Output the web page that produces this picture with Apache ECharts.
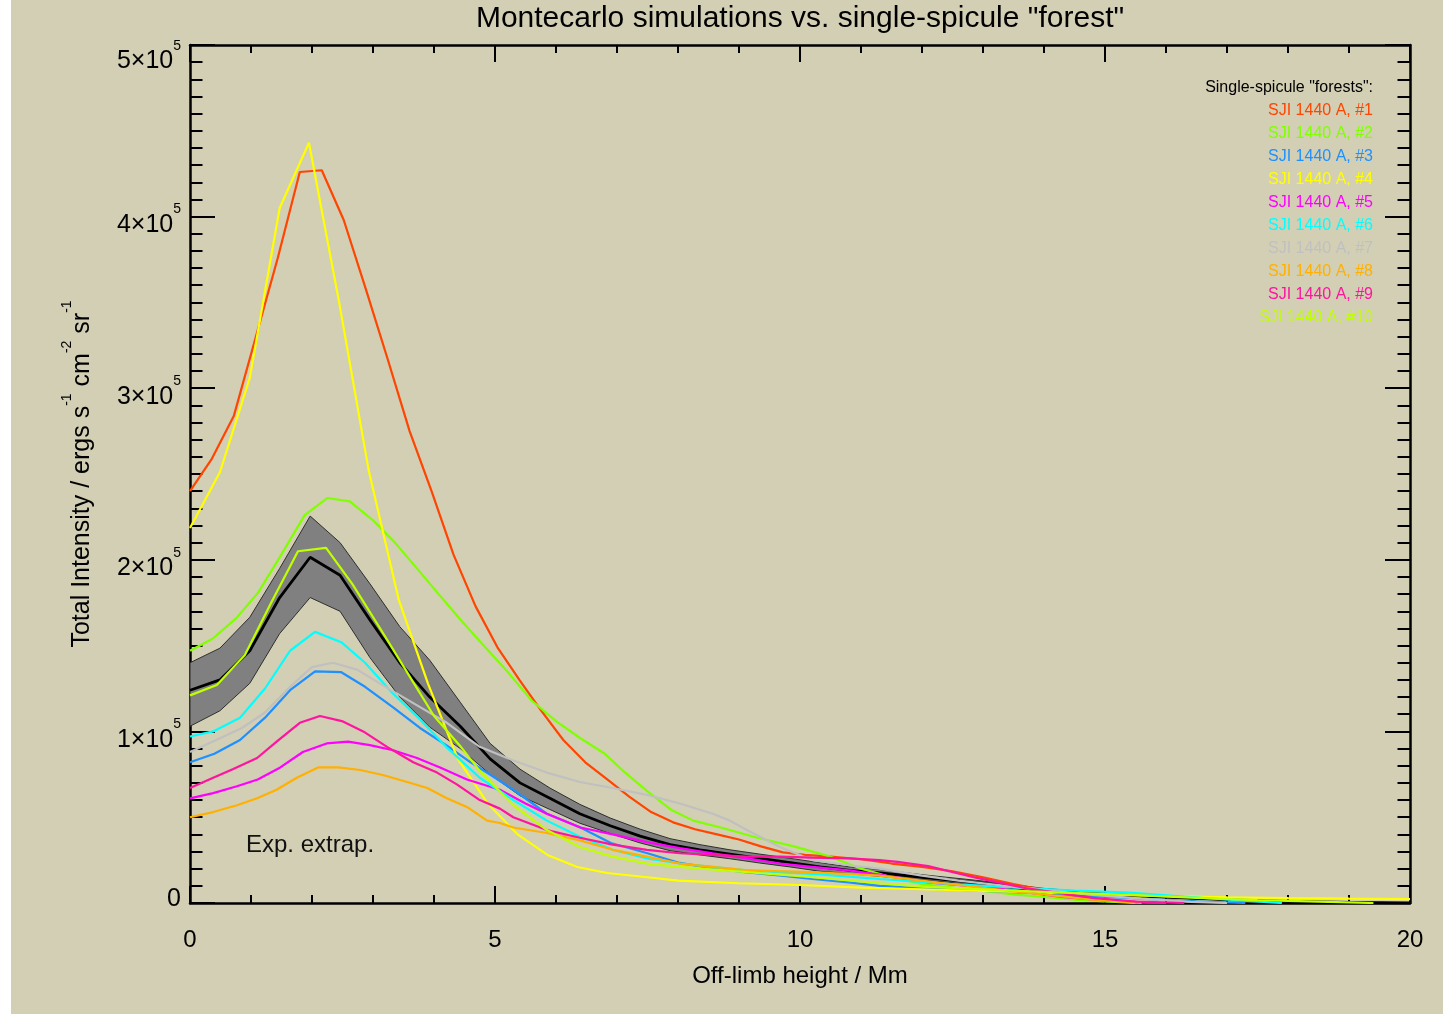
<!DOCTYPE html>
<html><head><meta charset="utf-8">
<script src="https://cdn.jsdelivr.net/npm/echarts@6/dist/echarts.min.js"></script>
<style>html,body{margin:0;padding:0;background:#fff}#c{width:1443px;height:1014px}</style>
</head><body><div id="c"></div>
<script>
const FONT = '"Liberation Sans", Arial, Helvetica, sans-serif';

const chartTitle = 'Montecarlo simulations vs. single-spicule "forest"';
const xAxisName = 'Off-limb height / Mm';
const legendHeader = 'Single-spicule "forests":';
const noteText = 'Exp. extrap.';

const seriesNames = ['SJI 1440 A, #1','SJI 1440 A, #2','SJI 1440 A, #3','SJI 1440 A, #4','SJI 1440 A, #5',
  'SJI 1440 A, #6','SJI 1440 A, #7','SJI 1440 A, #8','SJI 1440 A, #9','SJI 1440 A, #10'];
const seriesColors = ['#FF4500','#7FFF00','#1E90FF','#FFFF00','#FF00FF','#00FFFF','#C0C0C0','#FFB000','#FF14A0','#BFFF00'];

// [x (Mm), intensity]
const forest1 = [[0,240e3],[0.36,259e3],[0.72,284e3],[1.08,330e3],[1.44,376e3],[1.8,426e3],[2.16,427e3],[2.52,398e3],[2.88,358e3],[3.24,317e3],[3.6,275e3],[3.96,240e3],[4.32,203e3],[4.68,173e3],[5.04,149e3],[5.4,130e3],[5.76,112e3],[6.12,95e3],[6.48,82e3],[6.84,72e3],[7.2,62e3],[7.56,53e3],[7.92,47e3],[8.28,43e3],[8.64,40e3],[9.0,37e3],[9.36,33e3],[9.72,29.5e3],[10.08,28e3],[10.5,27e3],[11.0,25.5e3],[11.5,23e3],[12.0,21e3],[12.5,18.5e3],[13.0,15e3],[13.5,11e3],[14.0,7.5e3],[14.5,4e3],[15.0,1.5e3],[15.5,0.3e3],[16.0,0]];
const forest2 = [[0,147e3],[0.37,154e3],[0.76,166e3],[1.12,181e3],[1.48,202e3],[1.88,226e3],[2.25,236e3],[2.62,234e3],[3.0,223e3],[3.36,210e3],[3.72,195e3],[4.1,179e3],[4.46,164e3],[4.84,149e3],[5.2,135e3],[5.6,118e3],[6.0,106e3],[6.4,96e3],[6.8,87e3],[7.1,77e3],[7.5,65e3],[7.9,54e3],[8.25,48e3],[8.7,44e3],[9.3,38e3],[9.9,33e3],[10.5,27e3],[11.0,20e3],[11.5,15e3],[12.0,11e3],[12.5,9e3],[13.0,7e3],[13.5,5e3],[14.0,3.5e3],[14.5,2e3],[15.0,1e3],[15.5,0]];
const forest3 = [[0,82e3],[0.4,87e3],[0.82,95e3],[1.23,108e3],[1.64,124e3],[2.05,135e3],[2.48,134.5e3],[2.87,126e3],[3.33,114e3],[3.77,102e3],[4.2,92e3],[4.6,82e3],[5.0,73e3],[5.3,66e3],[5.85,52e3],[6.4,44e3],[6.9,35e3],[7.5,29e3],[8.0,23.5e3],[8.6,20e3],[9.1,18e3],[9.7,16e3],[10.2,14e3],[10.8,12e3],[11.3,10e3],[12.0,8.5e3],[13.0,7e3],[13.7,6e3],[14.5,4.5e3],[15.2,3.2e3],[15.9,2e3],[16.5,1e3],[17.3,0]];
const forest4 = [[0,218.5e3],[0.49,251e3],[0.98,306e3],[1.47,405e3],[1.95,443e3],[2.44,351e3],[2.93,252e3],[3.42,177e3],[3.9,128e3],[4.39,84e3],[4.88,58e3],[5.37,40e3],[5.86,28e3],[6.35,21e3],[6.84,17.5e3],[7.5,15e3],[8.0,13e3],[9.0,11.5e3],[10.0,10.5e3],[11.0,9e3],[12.0,8e3],[13.0,7e3],[14.0,6e3],[15.0,5e3],[16.0,4e3],[17.0,3.3e3],[18.0,2.8e3],[19.0,2.5e3],[20.0,2.3e3]];
const forest5 = [[0,61e3],[0.38,64e3],[0.77,68e3],[1.11,72e3],[1.48,79e3],[1.85,88e3],[2.24,93e3],[2.59,94e3],[2.95,92e3],[3.33,89e3],[3.72,84.5e3],[4.1,79e3],[4.54,72e3],[5.08,66e3],[5.5,58e3],[5.85,52e3],[6.4,44e3],[6.93,40e3],[7.49,35.5e3],[8.03,32e3],[8.57,29e3],[9.13,26e3],[9.67,23e3],[10.2,21e3],[10.8,19e3],[11.3,16.5e3],[12.1,12e3],[13.2,8.7e3],[14.3,3.5e3],[15.0,1.5e3],[15.9,0]];
const forest6 = [[0,97e3],[0.38,100e3],[0.82,108e3],[1.23,125e3],[1.64,147e3],[2.05,158e3],[2.48,152e3],[2.87,140e3],[3.33,122e3],[3.77,107e3],[4.2,91e3],[4.75,73e3],[5.3,60e3],[5.85,48e3],[6.4,38.5e3],[6.93,31e3],[7.49,26e3],[8.03,23e3],[9.13,19e3],[10.2,17e3],[11.3,14e3],[12.5,11e3],[13.7,8.7e3],[14.5,7.2e3],[15.4,6e3],[16.4,3.5e3],[17.2,1.5e3],[17.9,0]];
const forest7 = [[0,88e3],[0.49,96e3],[0.85,102e3],[1.23,111e3],[1.64,126e3],[2.0,137.5e3],[2.34,140e3],[2.74,136e3],[3.11,128e3],[3.66,116.5e3],[4.21,105e3],[4.75,91e3],[5.3,83e3],[5.85,76e3],[6.39,70.5e3],[6.93,67e3],[7.49,63e3],[8.03,58e3],[8.57,52e3],[8.85,48e3],[9.13,42.5e3],[9.67,32.6e3],[10.2,25e3],[10.8,22e3],[11.3,20e3],[12.0,16e3],[12.6,13e3],[13.7,8.7e3],[14.8,4.7e3],[15.6,2.5e3],[16.4,0.6e3],[17.0,0]];
const forest8 = [[0,50e3],[0.38,53e3],[0.77,57e3],[1.1,61e3],[1.42,66e3],[1.75,73e3],[2.1,79e3],[2.43,79e3],[2.79,77.5e3],[3.16,74.6e3],[3.56,70.5e3],[3.89,67e3],[4.21,61e3],[4.54,56e3],[4.87,48e3],[5.08,46.6e3],[5.3,44e3],[5.85,40.8e3],[6.39,36.5e3],[6.93,31e3],[7.49,27e3],[8.03,23e3],[9.13,19e3],[10.2,18e3],[11.3,16e3],[12.6,10.5e3],[13.7,6e3],[14.8,2e3],[15.6,0]];
const forest9 = [[0,67e3],[0.38,73e3],[0.7,78e3],[1.1,84.5e3],[1.42,94e3],[1.8,105e3],[2.13,109e3],[2.49,106e3],[2.84,100e3],[3.23,91e3],[3.66,82e3],[4.05,76e3],[4.38,69e3],[4.75,60e3],[5.08,55e3],[5.3,50e3],[5.85,42.5e3],[6.39,38e3],[6.93,34e3],[7.49,31e3],[8.03,29e3],[8.57,28e3],[9.13,27e3],[9.67,27e3],[10.2,26.5e3],[10.8,26e3],[11.3,25e3],[11.6,24e3],[12.1,21.5e3],[12.9,14.6e3],[13.7,8.7e3],[14.8,3e3],[15.5,0.8e3],[16.3,0]];
const forest10 = [[0,121e3],[0.44,127e3],[0.9,144.5e3],[1.33,175e3],[1.77,205e3],[2.23,207e3],[2.66,186e3],[3.1,161e3],[3.55,135e3],[4.0,109e3],[4.44,91e3],[4.75,77e3],[5.3,57e3],[5.85,42.5e3],[6.39,32.6e3],[6.93,27e3],[7.49,23e3],[8.03,21e3],[9.13,18e3],[10.2,15e3],[11.3,11.5e3],[12.0,9.5e3],[13.2,7.6e3],[14.3,6e3],[15.4,4.7e3],[16.5,3e3],[17.5,1.7e3],[18.5,0.8e3],[19.4,0]];

// Montecarlo mean and spread band
const mcMean = [[0,124e3],[0.49,130e3],[0.98,147e3],[1.47,178e3],[1.97,201.5e3],[2.46,191e3],[2.95,165e3],[3.44,140e3],[3.93,120e3],[4.43,103e3],[4.92,84e3],[5.41,70e3],[5.9,61e3],[6.39,52e3],[6.89,45e3],[7.38,39e3],[7.87,34e3],[8.36,31e3],[8.85,28.5e3],[9.34,26e3],[9.84,23.5e3],[10.33,21e3],[10.82,19e3],[11.31,17.5e3],[12.0,15e3],[13.0,11.5e3],[14.0,7.5e3],[15.0,5e3],[16.0,3.5e3],[17.0,2e3],[18.0,1e3],[19.0,0.3e3],[20.0,0]];
const mcUpper = [[0,140e3],[0.49,148.5e3],[0.98,166.5e3],[1.47,195e3],[1.97,225.5e3],[2.46,210e3],[2.95,186e3],[3.44,161e3],[3.93,141.5e3],[4.43,117e3],[4.92,93e3],[5.41,78e3],[5.9,67e3],[6.39,57.5e3],[6.89,49.5e3],[7.38,43e3],[7.87,37.5e3],[8.36,34e3],[8.85,31e3],[9.34,28.5e3],[9.84,26e3],[10.33,23.5e3],[10.82,21e3],[11.31,19.5e3],[12.0,16.5e3],[13.0,12.8e3],[14.0,8.5e3],[15.0,5.8e3],[16.0,4e3],[17.0,2.4e3],[18.0,1.3e3],[19.0,0.5e3],[20.0,0.2e3]];
const mcLower = [[0,103e3],[0.49,112e3],[0.98,128e3],[1.47,157e3],[1.97,178e3],[2.46,170e3],[2.95,143e3],[3.44,120e3],[3.93,102.5e3],[4.43,90e3],[4.92,75e3],[5.41,62.5e3],[5.9,54.5e3],[6.39,46.5e3],[6.89,40.5e3],[7.38,35e3],[7.87,30.5e3],[8.36,28e3],[8.85,25.8e3],[9.34,23.3e3],[9.84,21e3],[10.33,18.5e3],[10.82,17e3],[11.31,15.5e3],[12.0,13.5e3],[13.0,10.2e3],[14.0,6.5e3],[15.0,4.2e3],[16.0,3e3],[17.0,1.6e3],[18.0,0.7e3],[19.0,0.1e3],[20.0,0]];

const forests = [forest1,forest2,forest3,forest4,forest5,forest6,forest7,forest8,forest9,forest10];

const chart = echarts.init(document.getElementById('c'), null, {renderer:'canvas'});

const series = [
  {type:'custom', name:'band', coordinateSystem:'cartesian2d', xAxisIndex:0, yAxisIndex:0,
   data:[mcUpper[0]], silent:true, z:1,
   renderItem: function(params, api){
     const pts = mcUpper.map(p=>api.coord(p)).concat(mcLower.slice().reverse().map(p=>api.coord(p)));
     return {type:'polygon', shape:{points:pts}, style:{fill:'#808080', stroke:'#2e2e2e', lineWidth:1}};
   }},
  {type:'line', name:'mean', data:mcMean, symbol:'none', silent:true,
   lineStyle:{color:'#000', width:2.8}, z:2}
].concat(forests.map((d,i)=>({
  type:'line', name:seriesNames[i], data:d, symbol:'none', silent:true,
  lineStyle:{color:seriesColors[i], width:2.2}, itemStyle:{color:seriesColors[i]}, z:3
})));

const graphics = [
  {type:'rect', shape:{x:0,y:0,width:11,height:1014}, style:{fill:'#ffffff'}, z:-10},
  {type:'text', x:800, y:19, style:{text:chartTitle, fill:'#000', font:'30px '+FONT, align:'center', verticalAlign:'middle', textAlign:'center', textVerticalAlign:'middle'}},
  {type:'text', x:246, y:845, style:{text:noteText, fill:'#111', font:'24px '+FONT, align:'left', verticalAlign:'middle', textAlign:'left', textVerticalAlign:'middle'}},
  {type:'text', x:1373, y:88, style:{text:legendHeader, fill:'#000', font:'16px '+FONT, align:'right', verticalAlign:'middle', textAlign:'right', textVerticalAlign:'middle'}}
].concat(seriesNames.map((n,i)=>({
  type:'text', x:1373, y:111+23*i,
  style:{text:n, fill:seriesColors[i], font:'16px '+FONT, align:'right', verticalAlign:'middle', textAlign:'right', textVerticalAlign:'middle'}
})));

const axLine = {show:true, onZero:false, lineStyle:{color:'#000', width:2.5}};
function xAx(pos, showLabel){
  return {type:'value', min:0, max:20, interval:5, position:pos,
    axisLine:axLine,
    axisTick:{show:true, inside:true, length:17, lineStyle:{color:'#000', width:2}},
    minorTick:{show:true, splitNumber:5, length:8, lineStyle:{color:'#000', width:2}},
    splitLine:{show:false}, minorSplitLine:{show:false},
    axisLabel:{show:showLabel, color:'#000', fontSize:24, fontFamily:FONT, margin:25},
    name: showLabel ? xAxisName : '', nameLocation:'middle', nameGap:61,
    nameTextStyle:{color:'#000', fontSize:24, fontFamily:FONT}
  };
}
function yAx(pos, showLabel){
  return {type:'value', min:0, max:5e5, interval:1e5, position:pos,
    axisLine:axLine,
    axisTick:{show:true, inside:true, length:25, lineStyle:{color:'#000', width:2}},
    minorTick:{show:true, splitNumber:10, length:12.5, lineStyle:{color:'#000', width:2}},
    splitLine:{show:false}, minorSplitLine:{show:false},
    axisLabel:{show:showLabel, margin:9, padding:[7,0,0,0],
      formatter: function(v){
        if (v === 0) return '{z|0}';
        if (v === 5e5) return '{bt|' + (v/1e5) + '×10}{st|5}';
        return '{b|' + (v/1e5) + '×10}{s|5}';
      },
      rich:{
        b:{fontSize:25, fontFamily:FONT, color:'#000', padding:[10,0,0,0]},
        s:{fontSize:14, fontFamily:FONT, color:'#000', verticalAlign:'top'},
        bt:{fontSize:25, fontFamily:FONT, color:'#000', padding:[26,0,0,0]},
        st:{fontSize:14, fontFamily:FONT, color:'#000', verticalAlign:'top', padding:[16,0,0,0]},
        z:{fontSize:25, fontFamily:FONT, color:'#000', padding:[0,0,15,0]}
      }
    },
    name: showLabel ? '{n|Total Intensity / ergs s}{s|-1}{n| cm}{s|-2}{n| sr}{s|-1}' : '',
    nameLocation:'middle', nameGap:95,
    nameTextStyle:{color:'#000', fontFamily:FONT,
      rich:{
        n:{fontSize:25, fontFamily:FONT, color:'#000', padding:[10,0,0,0]},
        s:{fontSize:14, fontFamily:FONT, color:'#000', verticalAlign:'top'}
      }
    }
  };
}

chart.setOption({
  animation:false,
  backgroundColor:'#D3CFB4',
  textStyle:{fontFamily:FONT},
  grid:{left:190, right:33, top:45, bottom:111, containLabel:false},
  xAxis:[xAx('bottom', true), xAx('top', false)],
  yAxis:[yAx('left', true), yAx('right', false)],
  series: series,
  graphic: graphics
});
</script>
</body></html>
